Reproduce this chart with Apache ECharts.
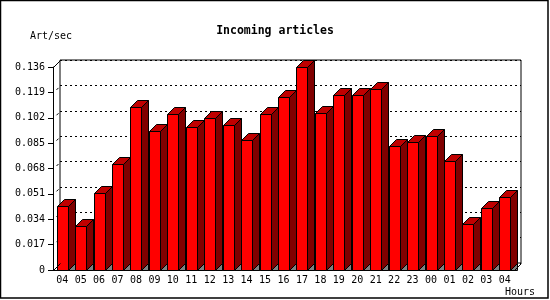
<!DOCTYPE html>
<html>
<head>
<meta charset="utf-8">
<script src="https://cdn.jsdelivr.net/npm/echarts@6/dist/echarts.min.js"></script>
<style>
  html, body { margin: 0; padding: 0; background: #fff; }
  #main { width: 550px; height: 300px; }
</style>
</head>
<body>
<div id="main"></div>
<script>
var hours = ['04', '05', '06', '07', '08', '09', '10', '11', '12', '13', '14', '15', '16',
    '17', '18', '19', '20', '21', '22', '23', '00', '01', '02', '03', '04'];
var artPerSec = [0.0429, 0.0295, 0.0516, 0.0708, 0.1092, 0.0931, 0.1045, 0.0958, 0.1020,
    0.0971, 0.0871, 0.1045, 0.1159, 0.1360, 0.1052, 0.1172, 0.1172, 0.1213, 0.0831,
    0.0858, 0.0898, 0.0730, 0.0308, 0.0415, 0.0489];
var yTicks = [0, 0.017, 0.034, 0.051, 0.068, 0.085, 0.102, 0.119, 0.136];

(function () {
    var FONT = '"DejaVu Sans Mono", monospace';
    var DEPTH = 7;
    var FRONT_W = 11;
    // front plot box
    var L = 53, T = 67, W = 461, H = 203;

    var yMax = yTicks[yTicks.length - 1];
    var yStep = yTicks[1] - yTicks[0];

    var myChart = echarts.init(document.getElementById('main'), null, {renderer: 'canvas'});

    function renderBar(params, api) {
        var idx = api.value(0);
        var top = api.coord([idx, api.value(1)]);
        var base = api.coord([idx, 0]);
        var x0 = Math.round(top[0] - FRONT_W / 2) + 0.5;
        var x1 = x0 + FRONT_W;
        var yt = Math.round(top[1]) + 0.5;
        var yb = Math.round(base[1]) + 0.5;
        var d = DEPTH;
        var line = {stroke: '#000', lineWidth: 1};
        return {
            type: 'group',
            children: [{
                type: 'polygon',
                shape: {points: [[x1, yb], [x1 + d, yb - d], [x1 + d, yb]]},
                style: {fill: '#808080', stroke: '#000', lineWidth: 1}
            }, {
                type: 'polygon',
                shape: {points: [[x1, yt], [x1 + d, yt - d], [x1 + d, yb - d], [x1, yb]]},
                style: Object.assign({fill: '#800000'}, line)
            }, {
                type: 'polygon',
                shape: {points: [[x0, yt], [x0 + d, yt - d], [x1 + d, yt - d], [x1, yt]]},
                style: Object.assign({fill: '#c00000'}, line)
            }, {
                type: 'rect',
                shape: {x: x0, y: yt, width: FRONT_W, height: yb - yt},
                style: Object.assign({fill: '#ff0000'}, line)
            }]
        };
    }

    // small diagonals on the left wall at each tick level
    var wallMarks = [];
    yTicks.forEach(function (v) {
        var y = T + H - v / yMax * H;
        if (v > 0 && v < yMax) {
            wallMarks.push({
                type: 'line',
                shape: {x1: L + 3.5, y1: y - 2.5, x2: L + 5.5, y2: y - 4.5},
                style: {stroke: '#000', lineWidth: 1}
            });
        }
    });

    var option = {
        backgroundColor: '#fff',
        animation: false,
        title: {
            text: 'Incoming articles',
            left: 'center',
            top: 20,
            textStyle: {fontFamily: FONT, fontSize: 11.5, fontWeight: 'bold', color: '#000'}
        },
        grid: [{
            // back wall
            left: L + DEPTH, top: T - DEPTH, width: W, height: H,
            show: true, borderColor: '#000', borderWidth: 1, backgroundColor: '#fff'
        }, {
            left: L, top: T, width: W, height: H
        }],
        xAxis: [{
            gridIndex: 0, type: 'category', data: hours, show: false
        }, {
            gridIndex: 1, type: 'category', data: hours,
            axisLine: {lineStyle: {color: '#000', width: 1}},
            axisTick: {length: 4, lineStyle: {color: '#000'}},
            axisLabel: {
                color: '#000', fontFamily: FONT, fontSize: 10, margin: 5, interval: 0
            },
            splitLine: {show: false}
        }],
        yAxis: [{
            gridIndex: 0, type: 'value', min: 0, max: yMax, interval: yStep,
            axisLine: {show: false}, axisTick: {show: false}, axisLabel: {show: false},
            splitLine: {lineStyle: {color: '#000', type: [2, 3], width: 1}}
        }, {
            gridIndex: 1, type: 'value', min: 0, max: yMax, interval: yStep,
            axisLine: {show: true, lineStyle: {color: '#000', width: 1}},
            axisTick: {show: true, length: 5, lineStyle: {color: '#000'}},
            axisLabel: {
                color: '#000', fontFamily: FONT, fontSize: 10, margin: 8,
                formatter: function (v) { return v === 0 ? '0' : v.toFixed(3); }
            },
            splitLine: {show: false}
        }],
        series: [{
            type: 'custom',
            xAxisIndex: 1,
            yAxisIndex: 1,
            renderItem: renderBar,
            encode: {x: 0, y: 1},
            data: artPerSec.map(function (v, i) { return [i, v]; }),
            z: 5
        }],
        graphic: [{
            type: 'rect',
            shape: {x: 0.5, y: 0.5, width: 547.5, height: 297.5},
            style: {fill: null, stroke: '#000', lineWidth: 1.5},
            silent: true
        }, {
            type: 'text', left: 30, top: 31,
            style: {text: 'Art/sec', fontFamily: FONT, fontSize: 10, fill: '#000'}
        }, {
            type: 'text', left: 505, top: 287,
            style: {text: 'Hours', fontFamily: FONT, fontSize: 10, fill: '#000'}
        }, {
            type: 'line', z: 10,
            shape: {x1: L + 0.5, y1: T + 0.5, x2: L + DEPTH + 0.5, y2: T - DEPTH + 0.5},
            style: {stroke: '#000', lineWidth: 1}
        }, {
            type: 'line', z: 10,
            shape: {x1: L + W + 0.5, y1: T + H + 0.5, x2: L + W + DEPTH + 0.5, y2: T + H - DEPTH + 0.5},
            style: {stroke: '#000', lineWidth: 1}
        }, {
            type: 'line', z: 10,
            shape: {x1: L + 0.5, y1: T + H + 0.5, x2: L + DEPTH + 0.5, y2: T + H - DEPTH + 0.5},
            style: {stroke: '#000', lineWidth: 1}
        }].concat(wallMarks)
    };
    myChart.setOption(option);
}());
</script>
</body>
</html>
